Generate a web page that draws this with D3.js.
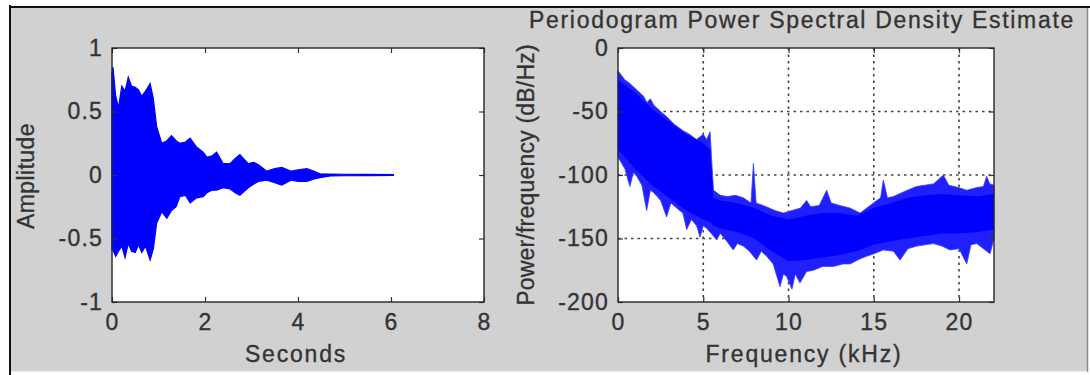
<!DOCTYPE html>
<html>
<head>
<meta charset="utf-8">
<script src="https://cdn.jsdelivr.net/npm/d3@7"></script>
<style>
  body { margin: 0; background: #fff; }
  text { font-family: "Liberation Sans", Arial, sans-serif; fill: #333; stroke: #333; stroke-width: 0.35px; }
</style>
</head>
<body>
<div id="chart"></div>
<script>
// waveform envelope (seconds, amplitude)
const waveTime  = [0, 0.02, 0.08, 0.14, 0.21, 0.28, 0.35, 0.42, 0.50, 0.57, 0.64, 0.72, 0.82, 0.89, 0.96, 1.07, 1.18, 1.28, 1.38, 1.46, 1.58, 1.68, 1.82, 1.96, 2.04, 2.15, 2.25, 2.39, 2.54, 2.65, 2.75, 2.93, 3.05, 3.15, 3.33, 3.50, 3.65, 3.86, 4.00, 4.19, 4.35, 4.47, 4.70, 5.00, 5.50, 6.05];
const waveUpper = [0.80, 0.85, 0.62, 0.53, 0.70, 0.66, 0.77, 0.70, 0.69, 0.67, 0.62, 0.66, 0.72, 0.60, 0.38, 0.25, 0.27, 0.31, 0.27, 0.25, 0.26, 0.29, 0.22, 0.18, 0.14, 0.15, 0.18, 0.09, 0.09, 0.13, 0.16, 0.09, 0.10, 0.08, 0.03, 0.05, 0.06, 0.03, 0.04, 0.05, 0.03, 0.01, 0.008, 0.006, 0.005, 0.004];
const waveLower = [-0.59, -0.59, -0.64, -0.60, -0.56, -0.65, -0.54, -0.60, -0.61, -0.55, -0.61, -0.56, -0.67, -0.58, -0.38, -0.29, -0.34, -0.28, -0.25, -0.17, -0.16, -0.22, -0.18, -0.17, -0.14, -0.12, -0.12, -0.10, -0.11, -0.14, -0.16, -0.10, -0.07, -0.05, -0.04, -0.06, -0.08, -0.04, -0.05, -0.05, -0.03, -0.02, -0.008, -0.006, -0.005, -0.004];

// periodogram outer envelope with spikes (kHz, dB/Hz)
const psdFreqHi = [0, 0.4, 0.7, 1.1, 1.5, 1.7, 1.9, 2.1, 2.5, 2.85, 3.3, 3.8, 4.2, 4.6, 4.8, 5.0, 5.2, 5.4, 5.5, 5.6, 6.0, 6.4, 6.9, 7.35, 7.8, 7.94, 8.1, 8.7, 9.2, 9.7, 10.2, 10.7, 11.06, 11.3, 11.8, 12.24, 12.5, 13.0, 13.6, 14.2, 14.98, 15.4, 15.56, 15.8, 16.15, 16.8, 17.5, 18.0, 18.5, 19.08, 19.4, 20.0, 20.45, 21.0, 21.43, 21.62, 21.8, 22.05];
const psdUpper  = [-18, -25, -28, -33, -38, -43, -40, -45, -50, -54, -60, -65, -68, -72, -70, -68, -72, -66, -90, -112, -116, -117, -116, -118, -122, -91, -122, -125, -128, -130, -128, -126, -120, -125, -124, -112, -122, -124, -126, -130, -122, -118, -104, -118, -117, -113, -109, -108, -107, -100, -108, -110, -112, -110, -109, -101, -107, -108];
const psdFreqLo = [0, 0.4, 0.7, 0.9, 1.1, 1.4, 1.68, 1.9, 2.1, 2.5, 2.85, 3.1, 3.44, 3.8, 4.03, 4.3, 4.61, 4.81, 5.0, 5.2, 5.79, 6.0, 6.37, 6.76, 7.0, 7.35, 7.7, 8.13, 8.4, 8.72, 9.1, 9.5, 9.7, 9.89, 10.2, 10.4, 10.67, 11.06, 11.46, 12.0, 12.63, 13.2, 13.61, 14.2, 14.58, 15.0, 15.56, 16.15, 16.54, 17.0, 17.52, 18.0, 18.5, 19.0, 19.47, 20.0, 20.45, 20.7, 21.04, 21.43, 21.82, 22.05];
const psdLower  = [-86, -95, -109, -98, -101, -108, -128, -112, -114, -120, -133, -122, -126, -130, -143, -135, -140, -149, -140, -142, -151, -146, -152, -159, -154, -156, -160, -167, -160, -164, -170, -188, -178, -180, -190, -178, -185, -176, -175, -172, -172, -170, -170, -166, -164, -162, -159, -160, -167, -158, -156, -155, -154, -156, -159, -158, -170, -155, -154, -158, -162, -150];

// periodogram dense core
const coreFreq  = [0, 1, 2, 3, 4, 5, 5.4, 5.6, 6, 7, 8, 9, 10, 11, 12, 13, 14, 15, 16, 17, 18, 19, 20, 21, 22.05];
const coreUpper = [-25, -35, -48, -58, -68, -75, -80, -118, -120, -122, -126, -132, -135, -132, -130, -130, -132, -126, -122, -118, -116, -115, -116, -117, -115];
const coreLower = [-80, -95, -108, -118, -128, -135, -137, -140, -142, -145, -150, -160, -168, -167, -165, -163, -160, -155, -152, -150, -148, -146, -146, -145, -143];

// ticks
const waveXTicks = [0, 2, 4, 6, 8];
const waveYTicks = [-1, -0.5, 0, 0.5, 1];
const psdXTicks  = [0, 5, 10, 15, 20];
const psdYTicks  = [-200, -150, -100, -50, 0];

const width = 1090, height = 375;
const blue = "#0000ff";

const svg = d3.select("#chart")
  .append("svg")
  .attr("width", width)
  .attr("height", height);

// grey figure panel with its frame
svg.append("rect")
  .attr("x", 11).attr("y", 8)
  .attr("width", 1076).attr("height", 364)
  .attr("fill", "#d1d1d1");
svg.append("line").attr("x1", 9).attr("x2", width).attr("y1", 7).attr("y2", 7)
  .attr("stroke", "#111").attr("stroke-width", 2);
svg.append("line").attr("x1", 10).attr("x2", 10).attr("y1", 5).attr("y2", height)
  .attr("stroke", "#111").attr("stroke-width", 2);
svg.append("line").attr("x1", 1087.5).attr("x2", 1087.5).attr("y1", 8).attr("y2", 372)
  .attr("stroke", "#8a8a8a").attr("stroke-width", 1.5);
svg.append("line").attr("x1", 11).attr("x2", 1087).attr("y1", 371.5).attr("y2", 371.5)
  .attr("stroke", "#ececec").attr("stroke-width", 1.5);

function drawAxes(box, x, y, xTicks, yTicks, grid) {
  const g = svg.append("g");

  g.append("rect")
    .attr("x", box.left).attr("y", box.top)
    .attr("width", box.right - box.left).attr("height", box.bottom - box.top)
    .attr("fill", "#fff");

  if (grid) {
    g.selectAll(".vgrid")
      .data(xTicks.slice(1))
      .join("line")
      .attr("x1", d => x(d)).attr("x2", d => x(d))
      .attr("y1", box.top).attr("y2", box.bottom)
      .attr("stroke", "#444").attr("stroke-width", 1.6)
      .attr("stroke-dasharray", "2.5,4");
    g.selectAll(".hgrid")
      .data(yTicks.slice(1, -1))
      .join("line")
      .attr("x1", box.left).attr("x2", box.right)
      .attr("y1", d => y(d)).attr("y2", d => y(d))
      .attr("stroke", "#444").attr("stroke-width", 1.6)
      .attr("stroke-dasharray", "2.5,4");
  }
  return g;
}

function drawFrame(g, box, x, y, xTicks, yTicks) {
  const fmt = d => String(d);
  const styleAxis = (sel, labels) => {
    sel.select(".domain").remove();
    sel.selectAll(".tick line").attr("stroke", "#333").attr("stroke-width", 1.2);
    sel.selectAll("text")
      .style("font-size", "23px")
      .style("letter-spacing", "1.2px")
      .attr("fill", "#333");
    if (!labels) sel.selectAll("text").remove();
  };

  g.append("g").attr("transform", `translate(0,${box.bottom})`)
    .call(d3.axisBottom(x).tickValues(xTicks).tickFormat(fmt).tickSize(-5).tickPadding(12))
    .call(s => styleAxis(s, true));
  g.append("g").attr("transform", `translate(0,${box.top})`)
    .call(d3.axisTop(x).tickValues(xTicks).tickSize(-5))
    .call(s => styleAxis(s, false));
  g.append("g").attr("transform", `translate(${box.left},0)`)
    .call(d3.axisLeft(y).tickValues(yTicks).tickFormat(fmt).tickSize(-5).tickPadding(9))
    .call(s => styleAxis(s, true));
  g.append("g").attr("transform", `translate(${box.right},0)`)
    .call(d3.axisRight(y).tickValues(yTicks).tickSize(-5))
    .call(s => styleAxis(s, false));

  g.append("rect")
    .attr("x", box.left).attr("y", box.top)
    .attr("width", box.right - box.left).attr("height", box.bottom - box.top)
    .attr("fill", "none").attr("stroke", "#262626").attr("stroke-width", 1.4);
}

// ---- left: waveform
const waveBox = { left: 112, right: 484, top: 48, bottom: 302 };
const xWave = d3.scaleLinear().domain([0, 8]).range([waveBox.left, waveBox.right]);
const yWave = d3.scaleLinear().domain([-1, 1]).range([waveBox.bottom, waveBox.top]);
const gWave = drawAxes(waveBox, xWave, yWave, waveXTicks, waveYTicks, false);

gWave.append("path")
  .datum(waveTime.map((t, i) => ({ t, hi: waveUpper[i], lo: waveLower[i] })))
  .attr("d", d3.area().x(d => xWave(d.t)).y0(d => yWave(d.lo)).y1(d => yWave(d.hi)))
  .attr("fill", blue).attr("stroke", blue).attr("stroke-width", 1.2);

drawFrame(gWave, waveBox, xWave, yWave, waveXTicks, waveYTicks);

svg.append("text")
  .attr("x", 296).attr("y", 362)
  .attr("text-anchor", "middle")
  .style("font-size", "23px").style("letter-spacing", "1.8px")
  .text("Seconds");
svg.append("text")
  .attr("transform", "translate(34,176) rotate(-90)")
  .attr("text-anchor", "middle")
  .style("font-size", "23px").style("letter-spacing", "0.4px")
  .text("Amplitude");

// ---- right: periodogram
const psdBox = { left: 618, right: 994, top: 48, bottom: 302 };
const xPsd = d3.scaleLinear().domain([0, 22.05]).range([psdBox.left, psdBox.right]);
const yPsd = d3.scaleLinear().domain([-200, 0]).range([psdBox.bottom, psdBox.top]);
const gPsd = drawAxes(psdBox, xPsd, yPsd, psdXTicks, psdYTicks, true);

// outer envelope: upper edge out, lower edge back
const outer = psdFreqHi.map((f, i) => [xPsd(f), yPsd(psdUpper[i])])
  .concat(psdFreqLo.map((f, i) => [xPsd(f), yPsd(psdLower[i])]).reverse());
gPsd.append("path")
  .attr("d", d3.line()(outer) + "Z")
  .attr("fill", "#2020ff").attr("stroke", "#3a3aff").attr("stroke-width", 0.8);

gPsd.append("path")
  .datum(coreFreq.map((f, i) => ({ f, hi: coreUpper[i], lo: coreLower[i] })))
  .attr("d", d3.area().x(d => xPsd(d.f)).y0(d => yPsd(d.lo)).y1(d => yPsd(d.hi)))
  .attr("fill", blue);

drawFrame(gPsd, psdBox, xPsd, yPsd, psdXTicks, psdYTicks);

svg.append("text")
  .attr("x", 804).attr("y", 362)
  .attr("text-anchor", "middle")
  .style("font-size", "23px").style("letter-spacing", "1.8px")
  .text("Frequency (kHz)");
svg.append("text")
  .attr("transform", "translate(534,175) rotate(-90)")
  .attr("text-anchor", "middle")
  .style("font-size", "23px").style("letter-spacing", "0.2px")
  .text("Power/frequency (dB/Hz)");
svg.append("text")
  .attr("x", 802).attr("y", 28)
  .attr("text-anchor", "middle")
  .style("font-size", "23px").style("letter-spacing", "1.7px")
  .text("Periodogram Power Spectral Density Estimate");
</script>
</body>
</html>
